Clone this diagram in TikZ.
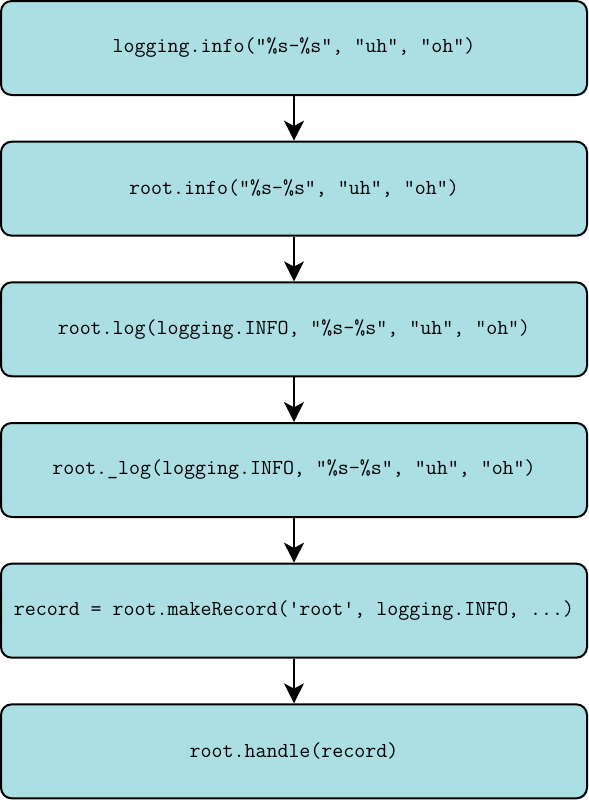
\documentclass[tikz,border=0pt]{standalone}
\usepackage{fontspec}
\usetikzlibrary{positioning, arrows.meta}
\definecolor{callblue}{HTML}{ABDFE4}

\begin{document}
\begin{tikzpicture}
\tikzstyle{call}=[rectangle, rounded corners=8pt, fill=callblue, draw=black, line width=1.5pt, outer sep=0pt, minimum width=439.5pt, minimum height=70.5pt, inner sep=0pt, font=\ttfamily\fontsize{16}{18}\selectfont, node distance=35pt]
\tikzstyle{connect}=[-{Stealth[length=15pt, width=15pt, inset=4pt]}, line width=1.5pt, shorten >=0.75pt, shorten <=0.75pt]
    \useasboundingbox (0,0) rectangle (441.75pt,-600pt);
    \node[call] (info) at (220.5pt,-36pt) {logging.info("\%s-\%s", "uh", "oh")};
    \node[call] (rootinfo) [below=of info] {root.info("\%s-\%s", "uh", "oh")};
    \node[call] (log) [below=of rootinfo] {root.log(logging.INFO, "\%s-\%s", "uh", "oh")};
    \node[call] (ulog) [below=of log] {root.\_log(logging.INFO, "\%s-\%s", "uh", "oh")};
    \node[call] (record) [below=of ulog] {record = root.makeRecord('root', logging.INFO, ...)};
    \node[call] (handle) [below=of record] {root.handle(record)};
    \path (info) edge [connect] (rootinfo)
          (rootinfo) edge [connect] (log)
          (log) edge [connect] (ulog)
          (ulog) edge [connect] (record)
          (record) edge [connect] (handle);
\end{tikzpicture}
\end{document}
